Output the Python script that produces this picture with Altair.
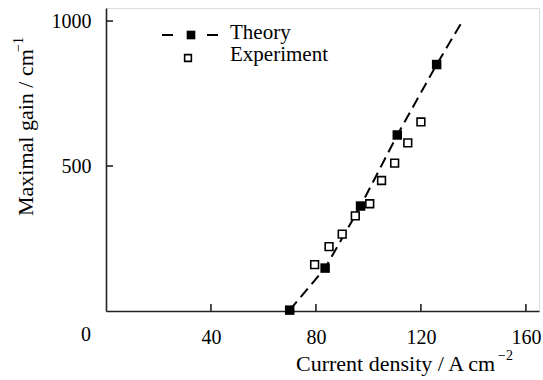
import altair as alt
import pandas as pd

# Data
theory_x = [70, 83.5, 97, 111, 126]
theory_y = [3, 148, 362, 607, 850]
line_x = [70, 83.5, 97, 111, 126, 135.5]
line_y = [3, 148, 362, 607, 850, 995]
exp_x = [79.5, 85, 90, 95, 100.5, 105, 110, 115, 120]
exp_y = [160, 222, 265, 328, 370, 450, 510, 580, 652]
x_ticks = [40, 80, 120, 160]
y_ticks = [500, 1000]

W, H = 433, 303
FONT = "Liberation Serif"
FS = 20
TFS = 22

theory = pd.DataFrame({"x": theory_x, "y": theory_y})
line = pd.DataFrame({"x": line_x, "y": line_y})
exp = pd.DataFrame({"x": exp_x, "y": exp_y})
xt = pd.DataFrame({"v": x_ticks})
yt = pd.DataFrame({"v": y_ticks})

xscale = alt.Scale(domain=[0, 165], nice=False, zero=False)
yscale = alt.Scale(domain=[0, 1045], nice=False, zero=False)

xaxis = alt.Axis(values=x_ticks, tickSize=0, grid=False, labelPadding=16,
                 labelFont=FONT, labelFontSize=FS, labelColor="black", format="d",
                 domainColor="#222", domainWidth=1.6, title=None)
yaxis = alt.Axis(values=y_ticks, tickSize=0, grid=False, labelPadding=15,
                 labelFont=FONT, labelFontSize=FS, labelColor="black", format="d",
                 domainColor="#222", domainWidth=1.6, title=None)

base_line = alt.Chart(line).mark_line(color="black", strokeWidth=2,
                                      strokeDash=[11, 6]).encode(
    x=alt.X("x:Q", scale=xscale, axis=xaxis),
    y=alt.Y("y:Q", scale=yscale, axis=yaxis),
)
theory_pts = alt.Chart(theory).mark_point(shape="square", filled=True, color="black",
                                          size=90, opacity=1).encode(
    x=alt.X("x:Q", scale=xscale), y=alt.Y("y:Q", scale=yscale))
exp_pts = alt.Chart(exp).mark_point(shape="square", filled=False, color="black",
                                    fill="white", size=60, strokeWidth=1.6,
                                    opacity=1).encode(
    x=alt.X("x:Q", scale=xscale), y=alt.Y("y:Q", scale=yscale))

xticks = alt.Chart(xt).mark_rule(color="#222", strokeWidth=1.6).encode(
    x=alt.X("v:Q", scale=xscale), y=alt.value(H), y2=alt.value(H - 7))
yticks = alt.Chart(yt).mark_rule(color="#222", strokeWidth=1.6).encode(
    y=alt.Y("v:Q", scale=yscale), x=alt.value(0), x2=alt.value(7))

origin = alt.Chart(pd.DataFrame({"t": ["0"]})).mark_text(
    font=FONT, fontSize=FS, color="black", align="center", baseline="middle").encode(
    text="t:N", x=alt.value(-20), y=alt.value(H + 24))

# axis titles (with raised exponents)
def txt(s, x, y, size, angle=0):
    return alt.Chart(pd.DataFrame({"t": [s]})).mark_text(
        font=FONT, fontSize=size, color="black", align="left",
        baseline="alphabetic", angle=angle).encode(
        text="t:N", x=alt.value(x), y=alt.value(y))

xtitle = txt("Current density / A cm", 190, 363, TFS)
xsup = txt("\u22122", 392, 352, 14)
ytitle = txt("Maximal gain / cm", -73, 208, TFS, angle=270)
ysup = txt("\u22121", -83, 44, 14, angle=270)

# manual legend
leg_line = alt.Chart(pd.DataFrame({"a": [0]})).mark_rule(
    color="black", strokeWidth=2, strokeDash=[11, 34]).encode(
    x=alt.value(56), x2=alt.value(112), y=alt.value(27))
leg_fill = alt.Chart(pd.DataFrame({"a": [0]})).mark_point(
    shape="square", filled=True, color="black", size=75, opacity=1).encode(
    x=alt.value(85), y=alt.value(27))
leg_open = alt.Chart(pd.DataFrame({"a": [0]})).mark_point(
    shape="square", filled=False, color="black", size=45, strokeWidth=1.6,
    opacity=1).encode(x=alt.value(82), y=alt.value(50))
leg_text = alt.Chart(pd.DataFrame({"t": ["Theory", "Experiment"],
                                   "py": [31, 53]})).mark_text(
    font=FONT, fontSize=21, color="black", align="left", baseline="alphabetic").encode(
    text="t:N", x=alt.value(124), y=alt.Y("py:Q", scale=None))

chart = alt.layer(base_line, xticks, yticks, theory_pts, exp_pts, origin,
                  xtitle, xsup, ytitle, ysup,
                  leg_line, leg_fill, leg_open, leg_text).properties(
    width=W, height=H,
    autosize=alt.AutoSizeParams(type="none"),
    padding={"left": 106, "top": 8, "right": 4, "bottom": 69},
).configure_view(stroke=None).configure(background="white")

chart.save("out.html", embed_options={"renderer": "svg", "actions": False})
